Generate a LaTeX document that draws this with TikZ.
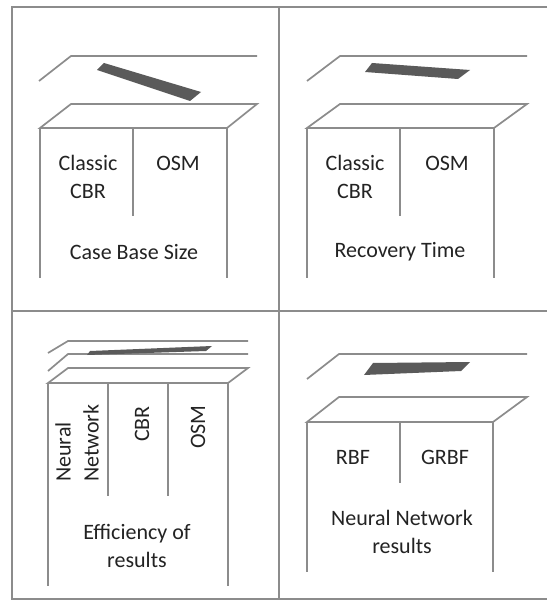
\documentclass[tikz,border=0pt]{standalone}
\usepackage{fontspec}
\setmainfont{Carlito}
\definecolor{frame}{RGB}{140,140,140}
\definecolor{slot}{RGB}{90,90,90}
\definecolor{ink}{RGB}{35,35,35}
\begin{document}
\begin{tikzpicture}[x=1pt,y=-1pt,
  edge/.style={draw=frame,line width=1.7pt},
  slotbar/.style={fill=slot,draw=none},
  lbl/.style={text=ink,font=\fontsize{22}{28}\selectfont,inner sep=0pt,align=center}]
\useasboundingbox (0,0) rectangle (547,601);
\fill[white] (0,0) rectangle (547,601);

% outer frame and quadrant dividers
\draw[edge] (547,7) -- (12,7) -- (12,599) -- (547,599);
\draw[edge] (279,7) -- (279,599);
\draw[edge] (12,311) -- (547,311);

% ---- box 1: Case Base Size
\draw[edge] (39,81) -- (71,56) -- (257,56);
\fill[slotbar] (97,70) -- (104,63) -- (201,92) -- (190,101) -- cycle;
\draw[edge] (40,128) -- (71,104) -- (257,104) -- (227,128) -- cycle;
\draw[edge] (40,128) -- (40,278);
\draw[edge] (227,128) -- (227,278);
\draw[edge] (133,128) -- (133,216);
\node[lbl] (c1) at (88,177) {Classic\\CBR};
\node[lbl] (o1) at (178,163) {OSM};
\node[lbl] (t1) at (134,252) {Case Base Size};

% ---- box 2: Recovery Time
\draw[edge] (307,81) -- (340,56) -- (527,56);
\fill[slotbar] (365,72) -- (372,63) -- (470,70) -- (458,79) -- cycle;
\draw[edge] (307,128) -- (340,104) -- (527,104) -- (494,128) -- cycle;
\draw[edge] (307,128) -- (307,278);
\draw[edge] (494,128) -- (494,278);
\draw[edge] (400,128) -- (400,216);
\node[lbl] (c2) at (355,177) {Classic\\CBR};
\node[lbl] (o2) at (447,163) {OSM};
\node[lbl] (t2) at (400,252) {Recovery Time};

% ---- box 3: Efficiency of results
\draw[edge] (48,353) -- (68,341) -- (248,341);
\draw[edge] (48,371) -- (68,354) -- (248,354);
\fill[slotbar] (87,355) -- (90,351) -- (212,346) -- (206,351) -- cycle;
\draw[edge] (48,383) -- (68,368) -- (248,368) -- (228,383) -- cycle;
\draw[edge] (48,383) -- (48,586);
\draw[edge] (228,383) -- (228,586);
\draw[edge] (108,383) -- (108,496);
\draw[edge] (168,383) -- (168,496);
\node[lbl,rotate=90,anchor=west,align=left] (n3) at (77,482) {Neural\\Network};
\node[lbl,rotate=90] (c3) at (142,424) {CBR};
\node[lbl,rotate=90] (o3) at (198,427) {OSM};
\node[lbl] (t3) at (137,546) {Efficiency of\\results};

% ---- box 4: Neural Network results
\draw[edge] (307,379) -- (339,354) -- (527,354);
\fill[slotbar] (364,375) -- (373,363) -- (470,362) -- (461,371) -- cycle;
\draw[edge] (307,422) -- (339,397) -- (527,397) -- (493,422) -- cycle;
\draw[edge] (307,422) -- (307,572);
\draw[edge] (493,422) -- (493,572);
\draw[edge] (400,422) -- (400,483);
\node[lbl] (r4) at (353,457) {RBF};
\node[lbl] (g4) at (445,457) {GRBF};
\node[lbl] (t4) at (402,532) {Neural Network\\results};
\end{tikzpicture}
\end{document}
